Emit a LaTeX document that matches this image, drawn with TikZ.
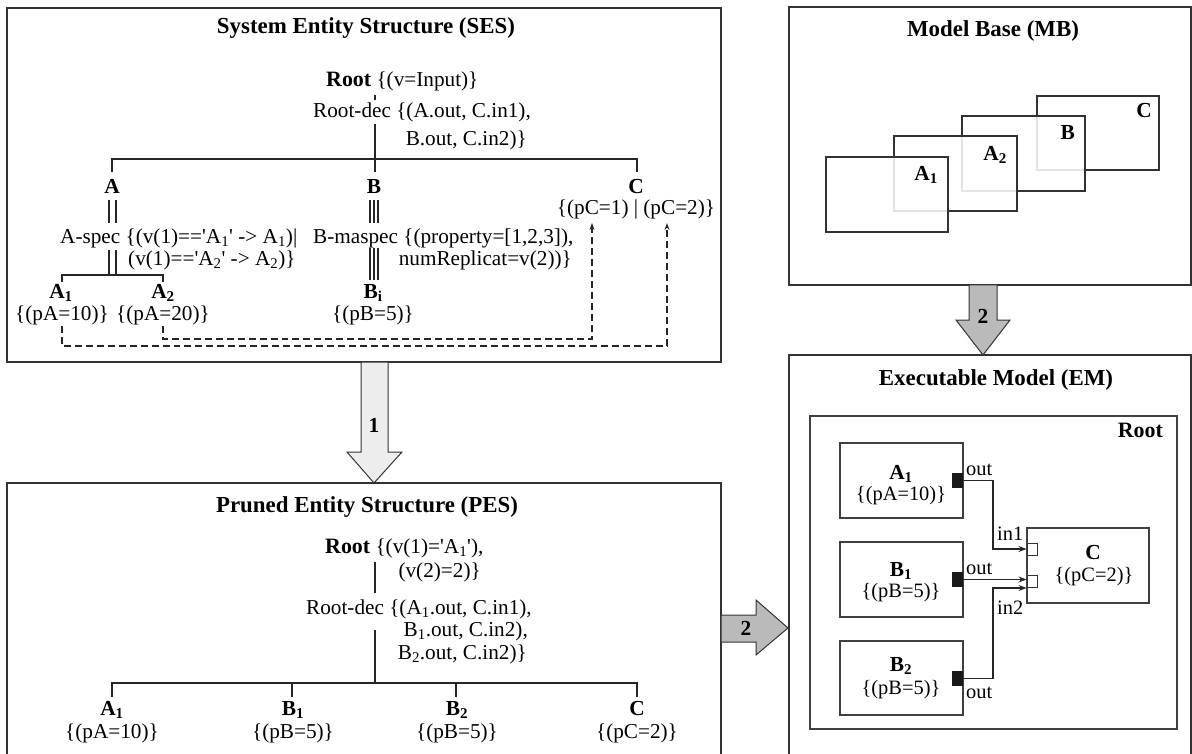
\documentclass[tikz,border=0pt]{standalone}
\usepackage{fontspec}
\setmainfont{Liberation Serif}
\usetikzlibrary{arrows.meta}
\newcommand\qq{\textquotesingle}
\tikzset{
  frame/.style={draw=black!80, line width=1.2pt},
  tree/.style={draw=black!85, line width=1.2pt},
  txt/.style={inner sep=0pt, font=\fontsize{21.3}{24}\selectfont},
  emtxt/.style={inner sep=0pt, font=\fontsize{20.5}{24}\selectfont},
  ent/.style={inner sep=0pt, font=\fontsize{21.5}{24}\selectfont\bfseries},
  ttl/.style={inner sep=0pt, font=\fontsize{23}{26}\selectfont\bfseries},
  dashl/.style={draw=black!85, line width=1.2pt, dash pattern=on 7pt off 4pt, -{Stealth[length=7pt,width=5pt]}},
  bigarrow/.style={draw=black!80, line width=1pt},
  mbbox/.style={draw=black!80, line width=1.2pt, fill=white, fill opacity=0.87},
  emblock/.style={draw=black!75, line width=1.2pt, inner sep=0pt},
  outport/.style={fill=black!90, draw=black!90, inner sep=0pt, minimum width=10bp, minimum height=14bp},
  inport/.style={fill=white, draw=black!80, line width=1pt, inner sep=0pt, minimum width=10bp, minimum height=12bp},
  conn/.style={draw=black!85, line width=1.2pt, -{Stealth[length=8pt,width=6pt]}},
}
\begin{document}
\begin{tikzpicture}[x=1bp,y=-1bp]
\useasboundingbox (0,0) rectangle (1192,754);
% ---------- frames ----------
\draw[frame] (7,8) rectangle (721,362);
\draw[frame] (7,758) -- (7,483) -- (721,483) -- (721,758);
\draw[frame] (789,7) rectangle (1191,285);
\draw[frame] (789,758) -- (789,355) -- (1191,355) -- (1191,758);

% ---------- SES ----------
\node[ttl, anchor=base] (sesT) at (366,34) {System Entity Structure (SES)};
\node[txt, anchor=base west] (sesRoot) at (326,87) {{\fontsize{22}{24}\selectfont\bfseries Root} \{(v=Input)\}};
\node[txt, anchor=base west] (sesRD1) at (313,118) {Root-dec \{(A.out, C.in1),};
\node[txt, anchor=base east] (sesRD2) at (527,145) {B.out, C.in2)\}};
\draw[tree] (375,95) -- (375,100);
\draw[tree] (375,124) -- (375,172);
\draw[tree] (112,172) -- (112,159) -- (637,159) -- (637,172);
\node[ent, anchor=base] (sesA) at (112,193) {A};
\node[ent, anchor=base] (sesB) at (374,193) {B};
\node[ent, anchor=base] (sesC) at (636,193) {C};
\node[txt, anchor=base] (sesCa) at (636,214) {\{(pC=1) | (pC=2)\}};
% A-spec
\draw[tree] (109,200) -- (109,223) (116,200) -- (116,223);
\node[txt, anchor=base west] (sesAs1) at (60,243) {A-spec \{(v(1)==\qq A\textsubscript{1}\qq{} -> A\textsubscript{1})|};
\node[txt, anchor=base west] (sesAs2) at (128,265) {(v(1)==\qq A\textsubscript{2}\qq{} -> A\textsubscript{2})\}};
\draw[tree] (109,250) -- (109,275) (116,250) -- (116,275);
\draw[tree] (62,282) -- (62,275) -- (163,275) -- (163,282);
\node[ent, anchor=base] (sesA1) at (61,298) {A\textsubscript{1}};
\node[txt, anchor=base] (sesA1a) at (62,320) {\{(pA=10)\}};
\node[ent, anchor=base] (sesA2) at (163,298) {A\textsubscript{2}};
\node[txt, anchor=base] (sesA2a) at (163,320) {\{(pA=20)\}};
% B-maspec
\draw[tree] (370,200) -- (370,223) (374,200) -- (374,223) (378,200) -- (378,223);
\node[txt, anchor=base west] (sesBm1) at (313,243) {B-maspec \{(property=[1,2,3]),};
\node[txt, anchor=base east] (sesBm2) at (572,265) {numReplicat=v(2))\}};
\draw[tree] (370,248) -- (370,280) (374,248) -- (374,280) (378,248) -- (378,280);
\node[ent, anchor=base] (sesBi) at (373,298) {B\textsubscript{i}};
\node[txt, anchor=base] (sesBia) at (373,320) {\{(pB=5)\}};
% dashed references
\draw[dashl] (62,326) -- (62,346) -- (667,346) -- (667,223);
\draw[dashl] (163,326) -- (163,339) -- (592,339) -- (592,223);

% ---------- arrow 1 ----------
\draw[bigarrow, fill=black!7] (361,362) -- (361,452) -- (347,452) -- (374,483) -- (402,452) -- (388,452) -- (388,362) -- cycle;
\node[ent] (n1) at (374,425) {1};

% ---------- PES ----------
\node[ttl, anchor=base] (pesT) at (367,512) {Pruned Entity Structure (PES)};
\node[txt, anchor=base west] (pesRoot1) at (325,553) {{\fontsize{22}{24}\selectfont\bfseries Root} \{(v(1)=\qq A\textsubscript{1}\qq),};
\node[txt, anchor=base east] (pesRoot2) at (481,577) {(v(2)=2)\}};
\draw[tree] (375,562) -- (375,593);
\node[txt, anchor=base west] (pesRD1) at (306,614) {Root-dec \{(A\textsubscript{1}.out, C.in1),};
\node[txt, anchor=base east] (pesRD2) at (528,636) {B\textsubscript{1}.out, C.in2),};
\node[txt, anchor=base east] (pesRD3) at (527,659) {B\textsubscript{2}.out, C.in2)\}};
\draw[tree] (375,630) -- (375,683);
\draw[tree] (112,697) -- (112,683) -- (637,683) -- (637,697);
\draw[tree] (292,683) -- (292,697) (456,683) -- (456,697);
\node[ent, anchor=base] (pesA1) at (112,715) {A\textsubscript{1}};
\node[txt, anchor=base] (pesA1a) at (112,738) {\{(pA=10)\}};
\node[ent, anchor=base] (pesB1) at (293,715) {B\textsubscript{1}};
\node[txt, anchor=base] (pesB1a) at (293,738) {\{(pB=5)\}};
\node[ent, anchor=base] (pesB2) at (457,715) {B\textsubscript{2}};
\node[txt, anchor=base] (pesB2a) at (457,738) {\{(pB=5)\}};
\node[ent, anchor=base] (pesC) at (637,715) {C};
\node[txt, anchor=base] (pesCa) at (637,738) {\{(pC=2)\}};

% ---------- arrow PES -> EM ----------
\draw[bigarrow, fill=black!27] (721,615) -- (756,615) -- (756,600) -- (788,628) -- (756,655) -- (756,642) -- (721,642) -- cycle;
\node[ent] (n2a) at (746,628) {2};

% ---------- MB ----------
\node[ttl, anchor=base] (mbT) at (993,37) {Model Base (MB)};
\draw[mbbox] (1037,96) rectangle (1159,170);
\node[ent, anchor=base east] (mbC) at (1152,118) {C};
\draw[mbbox] (962,116) rectangle (1085,191);
\node[ent, anchor=base east] (mbB) at (1075,139) {B};
\draw[mbbox] (894,136) rectangle (1017,211);
\node[ent, anchor=base east] (mbA2) at (1007,160) {A\textsubscript{2}};
\draw[mbbox] (826,157) rectangle (948,232);
\node[ent, anchor=base east] (mbA1) at (938,180) {A\textsubscript{1}};

% ---------- arrow MB -> EM ----------
\draw[bigarrow, fill=black!27] (969,285) -- (969,320) -- (956,320) -- (983,355) -- (1010,320) -- (997,320) -- (997,285) -- cycle;
\node[ent] (n2b) at (983,316) {2};

% ---------- EM ----------
\node[ttl, anchor=base] (emT) at (996,385) {Executable Model (EM)};
\draw[draw=black!75, line width=1.2pt] (810,416) rectangle (1177,729);
\node[ent, anchor=base east, font=\fontsize{22}{24}\selectfont\bfseries] (emRoot) at (1163,437) {Root};
\draw[emblock] (840,443) rectangle (963,518);
\draw[emblock] (840,542) rectangle (963,617);
\draw[emblock] (840,641) rectangle (963,715);
\draw[emblock] (1027,528) rectangle (1149,603);
\node[ent, anchor=base] (emA1) at (901,479) {A\textsubscript{1}};
\node[emtxt, anchor=base] (emA1a) at (901,500) {\{(pA=10)\}};
\node[ent, anchor=base] (emB1) at (901,576) {B\textsubscript{1}};
\node[emtxt, anchor=base] (emB1a) at (901,597) {\{(pB=5)\}};
\node[ent, anchor=base] (emB2) at (901,671) {B\textsubscript{2}};
\node[emtxt, anchor=base] (emB2a) at (901,694) {\{(pB=5)\}};
\node[ent, anchor=base] (emC) at (1093,559) {C};
\node[emtxt, anchor=base] (emCa) at (1094,581) {\{(pC=2)\}};
\node[outport] (pA1) at (957.5,480.5) {};
\node[outport] (pB1) at (957.5,579.5) {};
\node[outport] (pB2) at (957.5,678.5) {};
\node[inport] (in1) at (1032,549) {};
\node[inport] (in2) at (1032,581.5) {};
\draw[conn] (pA1.east) -- (993,480.5) |- (in1.west);
\draw[conn] (pB1.east) -- (pB1.east -| in2.west);
\draw[conn] (pB2.east) -- (993,678.5) |- (in2.south west);
\node[emtxt, anchor=base west] (lo1) at (966,475) {out};
\node[emtxt, anchor=base west] (li1) at (997,540) {in1};
\node[emtxt, anchor=base west] (lo2) at (966,574) {out};
\node[emtxt, anchor=base west] (li2) at (997,614) {in2};
\node[emtxt, anchor=base west] (lo3) at (966,698) {out};
\end{tikzpicture}
\end{document}
